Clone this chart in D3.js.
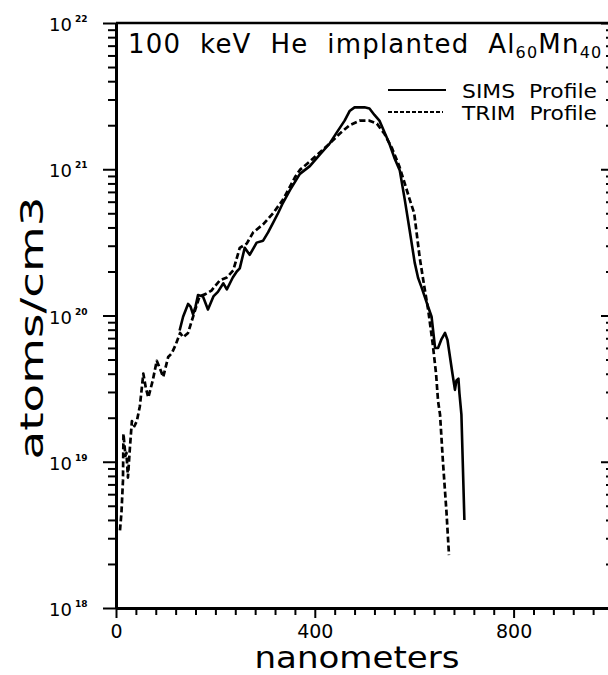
<!DOCTYPE html>
<html>
<head>
<meta charset="utf-8">
<script src="https://d3js.org/d3.v7.min.js"></script>
<style>
body { margin: 0; background: #fff; }
text { font-family: "DejaVu Sans", sans-serif; fill: #000; }
.axis path, .axis line { stroke: #000; }
.line { fill: none; stroke: #000; stroke-linejoin: round; }
</style>
</head>
<body>
<script>
// SIMS measured profile (depth in nm, concentration in atoms/cm3)
var simsDepth = [128, 135, 145, 150, 155, 160, 165, 175, 185, 196, 205, 216, 223, 235, 243, 249, 259, 269,
  283, 296, 306, 316, 326, 336, 350, 370, 390, 410, 430, 445, 460, 470, 480, 500, 510, 520, 530, 540,
  550, 560, 571, 581, 591, 601, 608, 615, 625, 635, 642, 648, 655, 662, 667, 671, 677, 682, 685, 689,
  691, 695, 701];
var simsConc = [7.9e19, 9.8e19, 1.2e20, 1.15e20, 1.02e20, 1.15e20, 1.38e20, 1.35e20, 1.1e20, 1.35e20,
  1.45e20, 1.66e20, 1.51e20, 1.82e20, 2.0e20, 2.1e20, 2.9e20, 2.6e20, 3.15e20, 3.25e20, 3.7e20, 4.3e20,
  5.0e20, 5.9e20, 7.2e20, 9.3e20, 1.05e21, 1.26e21, 1.5e21, 1.8e21, 2.15e21, 2.5e21, 2.65e21, 2.65e21,
  2.6e21, 2.35e21, 2.15e21, 1.8e21, 1.5e21, 1.2e21, 9.8e20, 6.2e20, 3.8e20, 2.3e20, 1.8e20, 1.55e20,
  1.23e20, 9.8e19, 6.0e19, 6.0e19, 6.9e19, 7.6e19, 6.8e19, 5.5e19, 4.0e19, 3.1e19, 3.6e19, 3.7e19,
  2.95e19, 2.1e19, 4.0e18];

// TRIM simulated profile
var trimDepth = [8, 11, 14, 15, 19, 21, 24, 28, 32, 37, 42, 48, 55, 60, 65, 74, 82, 90, 95, 105, 112, 120,
  129, 135, 145, 155, 168, 180, 192, 209, 223, 236, 249, 263, 276, 296, 316, 336, 350, 360, 370, 390, 410,
  430, 450, 470, 490, 510, 525, 540, 555, 570, 580, 591, 600, 611, 620, 628, 637, 644, 648, 652, 658,
  665, 670];
var trimConc = [3.4e18, 4.5e18, 7.4e18, 1.55e19, 1.1e19, 1.15e19, 7.8e18, 1.25e19, 1.9e19, 1.75e19, 1.9e19,
  2.4e19, 4.0e19, 3.2e19, 2.75e19, 3.6e19, 4.9e19, 4.2e19, 3.8e19, 5.2e19, 5.5e19, 6.3e19, 7.6e19,
  7.1e19, 7.6e19, 9.8e19, 1.35e20, 1.4e20, 1.48e20, 1.74e20, 1.82e20, 2.04e20, 2.9e20, 3.1e20, 3.7e20,
  4.2e20, 5.0e20, 6.2e20, 7.6e20, 8.8e20, 9.9e20, 1.13e21, 1.3e21, 1.5e21, 1.75e21, 2.0e21, 2.15e21,
  2.15e21, 2.05e21, 1.75e21, 1.4e21, 1.05e21, 8.2e20, 6.2e20, 5.0e20, 2.5e20, 1.6e20, 1.1e20, 6.5e19,
  4.0e19, 2.6e19, 2.1e19, 9.8e18, 4.5e18, 2.3e18];

var xMajor = [0, 400, 800];
var xLabels = ["0", "400", "800"];
var yDecades = [1e18, 1e19, 1e20, 1e21, 1e22];
var yExp = ["18", "19", "20", "21", "22"];
var legendNames = ["SIMS  Profile", "TRIM  Profile"];

var margin = {top: 23, left: 116},
    width = 497,
    height = 585;

var x = d3.scaleLinear().domain([0, 1000]).range([0, width]);
var y = d3.scaleLog().domain([1e18, 1e22]).range([height, 0]);

var svg = d3.select("body").append("svg")
    .attr("width", 608)
    .attr("height", 675)
  .append("g")
    .attr("transform", "translate(" + margin.left + "," + margin.top + ")");

svg.append("clipPath").attr("id", "clip")
  .append("rect").attr("width", width).attr("height", height);

var xMinor = d3.range(0, 1001, 40).filter(function(d) { return xMajor.indexOf(d) < 0; });
var yMinor = y.ticks().filter(function(d) { return yDecades.indexOf(d) < 0; });

// left axis, ticks outward
svg.append("g").attr("class", "axis")
    .call(d3.axisLeft(y).tickValues(yMinor).tickSize(8).tickSizeOuter(0).tickFormat(""))
    .call(function(g) { g.select(".domain").attr("stroke-width", 3); g.selectAll(".tick line").attr("stroke-width", 2); });
svg.append("g").attr("class", "axis")
    .call(d3.axisLeft(y).tickValues(yDecades).tickSize(13).tickSizeOuter(0).tickFormat(""))
    .call(function(g) { g.select(".domain").remove(); g.selectAll(".tick line").attr("stroke-width", 2); });

// right axis, ticks inward
svg.append("g").attr("class", "axis")
    .attr("transform", "translate(" + width + ",0)")
    .call(d3.axisLeft(y).tickValues(yMinor).tickSize(7).tickSizeOuter(0).tickFormat(""))
    .call(function(g) { g.select(".domain").attr("stroke-width", 3); g.selectAll(".tick line").attr("stroke-width", 2); });
svg.append("g").attr("class", "axis")
    .attr("transform", "translate(" + width + ",0)")
    .call(d3.axisLeft(y).tickValues(yDecades).tickSize(12).tickSizeOuter(0).tickFormat(""))
    .call(function(g) { g.select(".domain").remove(); g.selectAll(".tick line").attr("stroke-width", 2); });

// bottom axis
svg.append("g").attr("class", "axis")
    .attr("transform", "translate(0," + height + ")")
    .call(d3.axisBottom(x).tickValues(xMinor).tickSize(7).tickSizeOuter(0).tickFormat(""))
    .call(function(g) { g.select(".domain").attr("stroke-width", 3); g.selectAll(".tick line").attr("stroke-width", 2); });
svg.append("g").attr("class", "axis")
    .attr("transform", "translate(0," + height + ")")
    .call(d3.axisBottom(x).tickValues(xMajor).tickSize(10).tickSizeOuter(0)
      .tickFormat(function(d, i) { return xLabels[i]; }))
    .call(function(g) {
      g.select(".domain").remove();
      g.selectAll(".tick line").attr("stroke-width", 2);
      g.selectAll(".tick text").attr("y", 30).attr("dy", null)
        .style("font-family", "DejaVu Sans").style("font-size", "19px");
    });

// top frame line
svg.append("line")
    .attr("x1", 0).attr("x2", width).attr("y1", 0).attr("y2", 0)
    .attr("stroke", "#000").attr("stroke-width", 2.5);

// y tick labels 10^n
var ylab = svg.selectAll(".ylab").data(yDecades).enter().append("g")
    .attr("transform", function(d) { return "translate(0," + y(d) + ")"; });
ylab.append("text").attr("x", -44).attr("y", 8)
    .attr("text-anchor", "end").style("font-size", "18px").text("10");
ylab.append("text").attr("x", -41).attr("y", -1)
    .style("font-size", "9px").style("font-weight", "bold")
    .text(function(d, i) { return yExp[i]; });

// curves
var simsData = simsDepth.map(function(d, i) { return [d, simsConc[i]]; });
var trimData = trimDepth.map(function(d, i) { return [d, trimConc[i]]; });
var line = d3.line()
    .x(function(d) { return x(d[0]); })
    .y(function(d) { return y(d[1]); });

svg.append("path").datum(trimData)
    .attr("class", "line").attr("clip-path", "url(#clip)")
    .attr("stroke-width", 2.7).attr("stroke-dasharray", "6,3")
    .attr("d", line);
svg.append("path").datum(simsData)
    .attr("class", "line").attr("clip-path", "url(#clip)")
    .attr("stroke-width", 2.6)
    .attr("d", line);

// title
var title = svg.append("text").attr("x", 12).attr("y", 30)
    .style("font-size", "26px").style("white-space", "pre");
title.append("tspan").text("100  keV  He  implanted  Al");
title.append("tspan").attr("dy", 5).style("font-size", "16px").text("60");
title.append("tspan").attr("dy", -5).text("Mn");
title.append("tspan").attr("dy", 5).style("font-size", "16px").text("40");
var tw = title.node().getComputedTextLength();
title.style("letter-spacing", ((472 - tw) / 31) + "px");

// legend
var legend = svg.selectAll(".legend").data(legendNames).enter().append("g")
    .attr("transform", function(d, i) { return "translate(272," + (67 + i * 22) + ")"; });
legend.append("line")
    .attr("x1", 0).attr("x2", function(d, i) { return i ? 55 : 58; })
    .attr("stroke", "#000").attr("stroke-width", 2)
    .attr("stroke-dasharray", function(d, i) { return i ? "4,2" : null; });
legend.append("text").attr("x", 74).attr("y", 8)
    .style("font-size", "20px").style("white-space", "pre")
    .attr("textLength", 135).attr("lengthAdjust", "spacingAndGlyphs")
    .text(function(d) { return d; });

// axis titles
svg.append("text")
    .attr("transform", "translate(-73," + (328 - margin.top) + ") rotate(-90)")
    .attr("text-anchor", "middle")
    .style("font-size", "32px")
    .attr("textLength", 263).attr("lengthAdjust", "spacingAndGlyphs")
    .text("atoms/cm3");
svg.append("text")
    .attr("x", 357 - margin.left).attr("y", 668 - margin.top)
    .attr("text-anchor", "middle")
    .style("font-size", "30px")
    .attr("textLength", 205).attr("lengthAdjust", "spacingAndGlyphs")
    .text("nanometers");
</script>
</body>
</html>
